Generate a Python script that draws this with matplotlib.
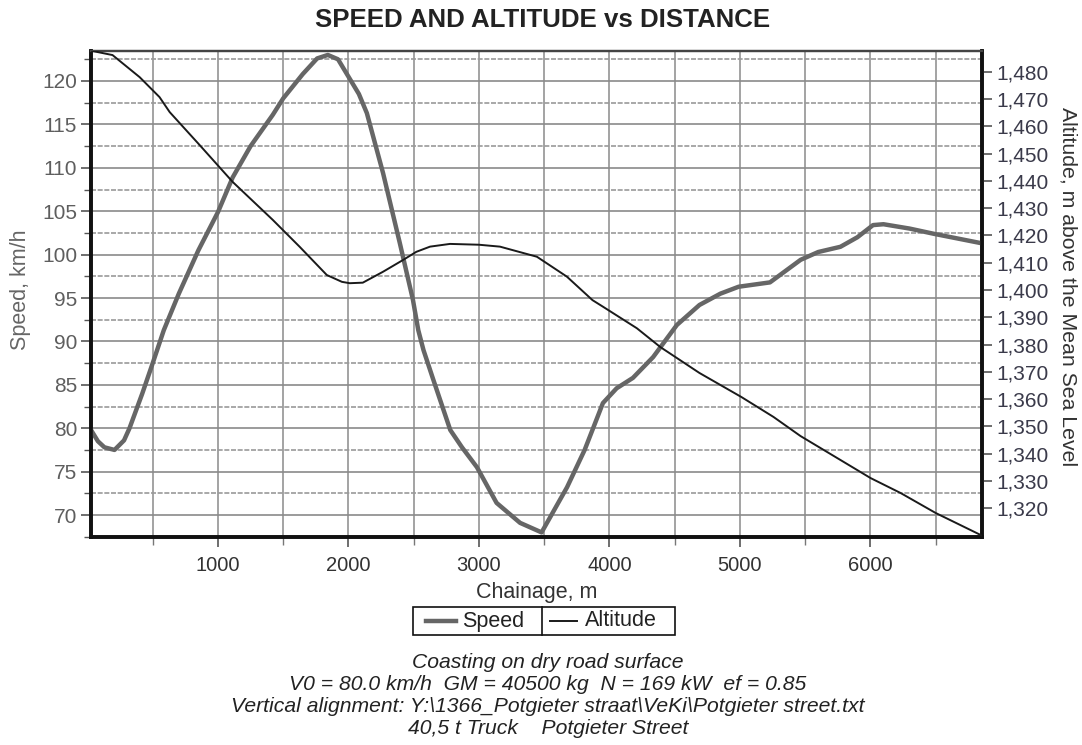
import matplotlib
matplotlib.use("Agg")
import matplotlib.pyplot as plt
from matplotlib.ticker import MultipleLocator, FuncFormatter, FixedLocator
from matplotlib.lines import Line2D
from matplotlib.patches import Rectangle

plt.rcParams['font.family'] = ['Liberation Sans', 'DejaVu Sans']

# ---------------- data ----------------
speed_chainage = [27, 80, 130, 207, 280, 322, 420, 500, 585, 700, 850, 1000, 1113, 1250,
                  1420, 1500, 1650, 1760, 1842, 1920, 2000, 2080, 2141, 2265, 2394, 2494,
                  2535, 2575, 2650, 2780, 2870, 2985, 3135, 3315, 3480, 3675, 3810, 3950,
                  4055, 4180, 4335, 4517, 4690, 4850, 4990, 5230, 5465, 5600, 5770, 5900,
                  6020, 6100, 6300, 6485, 6855]
speed_kmh = [79.8, 78.5, 77.8, 77.5, 78.6, 80.0, 84.0, 87.5, 91.3, 95.5, 100.5, 104.9, 108.9,
             112.5, 116.1, 118.0, 120.8, 122.6, 123.0, 122.5, 120.5, 118.5, 116.3, 109.4,
             101.3, 94.8, 91.3, 89.0, 85.6, 79.8, 77.8, 75.5, 71.4, 69.1, 68.0, 73.2, 77.5,
             82.9, 84.6, 85.8, 88.2, 91.9, 94.2, 95.5, 96.3, 96.8, 99.4, 100.3, 100.9, 102.0,
             103.4, 103.5, 103.0, 102.4, 101.3]

alt_chainage = [27, 192, 400, 552, 630, 860, 1113, 1420, 1627, 1834, 1950, 2010, 2110, 2265,
                2418, 2520, 2625, 2778, 3000, 3161, 3444, 3674, 3870, 3950, 4210, 4390, 4690,
                5011, 5257, 5464, 5771, 6001, 6232, 6500, 6855]
altitude_m = [1487.7, 1486.1, 1478.0, 1470.7, 1465.2, 1453.1, 1439.6, 1425.7, 1415.8, 1405.5,
              1403.0, 1402.5, 1402.7, 1406.7, 1411.0, 1414.0, 1415.9, 1416.9, 1416.6, 1415.9,
              1412.2, 1404.9, 1396.3, 1393.9, 1386.0, 1379.1, 1369.6, 1360.8, 1353.5, 1346.5,
              1337.7, 1331.1, 1325.6, 1318.3, 1310.0]

speed_ticks = [70, 75, 80, 85, 90, 95, 100, 105, 110, 115, 120]
alt_ticks = [1320, 1330, 1340, 1350, 1360, 1370, 1380, 1390, 1400, 1410, 1420, 1430,
             1440, 1450, 1460, 1470, 1480]
x_ticks = [1000, 2000, 3000, 4000, 5000, 6000]

series_names = ["Speed", "Altitude"]
title = "SPEED AND ALTITUDE vs DISTANCE"
notes = ["Coasting on dry road surface",
         "V0 = 80.0 km/h  GM = 40500 kg  N = 169 kW  ef = 0.85",
         "Vertical alignment: Y:\\1366_Potgieter straat\\VeKi\\Potgieter street.txt",
         "40,5 t Truck    Potgieter Street"]

# ---------------- figure ----------------
W, H = 1082, 745
fig = plt.figure(figsize=(W / 100, H / 100), dpi=100)
fig.patch.set_facecolor('white')

def fx(px):
    return px / W

def fy(py):
    return 1 - py / H

L, R, T, B = 91, 982, 50.7, 537
ax = fig.add_axes([fx(L), fy(B), (R - L) / W, (B - T) / H])
ax2 = ax.twinx()

ax.set_xlim(27, 6855)
ax.set_ylim(67.47, 123.49)
ax2.set_ylim(1309.5, 1487.7)

# grid
ax.xaxis.set_major_locator(FixedLocator(x_ticks))
ax.xaxis.set_minor_locator(MultipleLocator(500))
ax.yaxis.set_major_locator(FixedLocator(speed_ticks))
ax.yaxis.set_minor_locator(MultipleLocator(2.5))
ax.grid(True, which='both', axis='x', color='#8a8a8a', lw=1.1)
ax.grid(True, which='major', axis='y', color='#8a8a8a', lw=1.2)
ax.grid(True, which='minor', axis='y', color='#9a9a9a', lw=1.2, ls=(0, (3, 1)))
ax.set_axisbelow(True)

ln_speed, = ax.plot(speed_chainage, speed_kmh, color='#666666', lw=3.2,
                    solid_joinstyle='round', zorder=3)
ln_alt, = ax2.plot(alt_chainage, altitude_m, color='#1a1a1a', lw=1.4, zorder=3)

ax2.yaxis.set_major_locator(FixedLocator(alt_ticks))
ax2.yaxis.set_major_formatter(FuncFormatter(lambda v, p: f"{v:,.0f}"))

for a in (ax, ax2):
    for s in ('left', 'bottom', 'right'):
        a.spines[s].set_linewidth(2.6)
        a.spines[s].set_color('#111111')
    a.spines['top'].set_linewidth(1.6)
    a.spines['top'].set_color('#444444')

ax.tick_params(axis='y', which='major', direction='out', length=7, width=1.2,
               labelsize=15, labelcolor='#5e5e5e', color='#555555', pad=3)
ax.tick_params(axis='y', which='minor', direction='out', length=5, width=1.0, color='#555555')
ax.tick_params(axis='x', which='major', direction='out', length=7, width=1.2,
               labelsize=14.5, labelcolor='#333333', color='#555555', pad=7)
ax.tick_params(axis='x', which='minor', direction='out', length=6, width=1.0, color='#777777')
ax2.tick_params(axis='y', which='major', direction='out', length=7, width=1.2,
                labelsize=15, labelcolor='#3a3a4a', color='#555555', pad=3)

ax.set_xlabel("Chainage, m", fontsize=15.5, color='#333333', labelpad=5)
ax.set_ylabel("Speed, km/h", fontsize=15.5, color='#666666', va='center')
ax.yaxis.set_label_coords((20 - L) / (R - L), (B - 290) / (B - T))
ax2.set_ylabel("Altitude, m above the Mean Sea Level", fontsize=15.3, color='#333333',
               rotation=-90, va='center')
ax2.yaxis.set_label_coords((1068 - L) / (R - L), (B - 287) / (B - T))

fig.text(fx(543), fy(20), title, ha='center', va='center', fontsize=18.6,
         fontweight='bold', color='#222222')

# legend (two boxed cells)
fig.add_artist(Rectangle((fx(413), fy(635)), (675 - 413) / W, (635 - 607) / H,
                         transform=fig.transFigure, fill=False, ec='#111111', lw=1.2))
fig.add_artist(Line2D([fx(542)] * 2, [fy(607), fy(635)], color='#111111', lw=1.2,
                      transform=fig.transFigure))
leg_y = fy(621)
for line, name, hx0, hx1, tx in [(ln_speed, series_names[0], 426, 456, 462),
                                 (ln_alt, series_names[1], 550, 577, 585)]:
    fig.add_artist(Line2D([fx(hx0), fx(hx1)], [leg_y, leg_y], color=line.get_color(),
                          lw=line.get_linewidth(), transform=fig.transFigure))
    fig.text(fx(tx), leg_y, name, ha='left', va='center', fontsize=15.5, color='#222222')

ys = [662, 685, 707, 728]
for y, s in zip(ys, notes):
    fig.text(fx(548), fy(y), s, ha='center', va='center', fontsize=15.2,
             style='italic', color='#222222')

fig.savefig("out.png", dpi=100, facecolor='white')
